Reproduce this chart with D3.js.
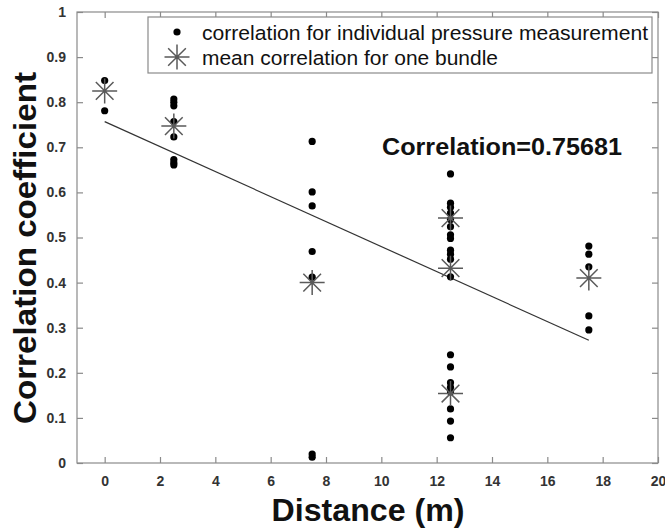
<!DOCTYPE html>
<html lang="en">
<head>
<meta charset="UTF-8">
<title>Correlation vs distance</title>
<script src="https://d3js.org/d3.v7.min.js"></script>
<style>
  body { margin: 0; background: #fff; }
  svg { display: block; font-family: "Liberation Sans", Arial, Helvetica, sans-serif; }
</style>
</head>
<body>
<svg id="main" width="665" height="529"></svg>
<script>
// individual pressure measurement correlations, grouped by distance (m)
const distances = [0, 2.5, 7.5, 12.5, 17.5]
const corrAt0 = [0.848, 0.781]
const corrAt2_5 = [0.807, 0.800, 0.792, 0.757, 0.723, 0.673, 0.666, 0.661]
const corrAt7_5 = [0.713, 0.601, 0.570, 0.469, 0.412, 0.020, 0.013]
const corrAt12_5 = [0.641, 0.576, 0.567, 0.554, 0.540, 0.524, 0.506, 0.498, 0.472, 0.463,
                    0.452, 0.413, 0.240, 0.213, 0.178, 0.168, 0.158, 0.120, 0.093, 0.056]
const corrAt17_5 = [0.481, 0.463, 0.435, 0.326, 0.295]
// mean correlation for one bundle
const meanX = [0, 2.5, 7.5, 12.5, 12.5, 12.5, 17.5]
const meanY = [0.825, 0.747, 0.400, 0.543, 0.432, 0.154, 0.410]
// fitted line end points
const fitX = [0, 17.5]
const fitY = [0.757, 0.272]
const xTicks = [0, 2, 4, 6, 8, 10, 12, 14, 16, 18, 20]
const yTicks = [0, 0.1, 0.2, 0.3, 0.4, 0.5, 0.6, 0.7, 0.8, 0.9, 1]

const groups = [corrAt0, corrAt2_5, corrAt7_5, corrAt12_5, corrAt17_5]
const points = []
groups.forEach((g, i) => g.forEach(v => points.push({x: distances[i], y: v})))
const means = meanX.map((d, i) => ({x: d, y: meanY[i]}))

const svg = d3.select("#main")
const mLeft = 77, mRight = 658, mTop = 12, mBottom = 463

const x = d3.scaleLinear().domain([-1, 20]).range([mLeft, mRight])
const y = d3.scaleLinear().domain([0, 1]).range([mBottom, mTop])

const axisColor = "#8a8a8a"
const tickLen = 6

// frame
svg.append("rect")
    .attr("x", mLeft).attr("y", mTop)
    .attr("width", mRight - mLeft).attr("height", mBottom - mTop)
    .attr("fill", "none").attr("stroke", axisColor).attr("stroke-width", 1.2)

// axes with inward ticks, mirrored on the top and right sides
const fmtY = d => d === 0 ? "0" : d === 1 ? "1" : d3.format(".1f")(d)
function styleAxis(g) {
    g.select(".domain").remove()
    g.selectAll(".tick line").attr("stroke", axisColor).attr("stroke-width", 1.2)
    g.selectAll(".tick text")
        .attr("fill", "#333")
        .attr("font-size", 14)
        .attr("font-weight", "bold")
}
svg.append("g").attr("transform", `translate(0,${mBottom})`)
    .call(d3.axisBottom(x).tickValues(xTicks).tickSizeInner(-tickLen).tickSizeOuter(0).tickPadding(13))
    .call(styleAxis)
svg.append("g").attr("transform", `translate(0,${mTop})`)
    .call(d3.axisTop(x).tickValues(xTicks).tickSizeInner(-tickLen).tickSizeOuter(0).tickFormat(""))
    .call(styleAxis)
svg.append("g").attr("transform", `translate(${mLeft},0)`)
    .call(d3.axisLeft(y).tickValues(yTicks).tickSizeInner(-tickLen).tickSizeOuter(0).tickPadding(11).tickFormat(fmtY))
    .call(styleAxis)
svg.append("g").attr("transform", `translate(${mRight},0)`)
    .call(d3.axisRight(y).tickValues(yTicks).tickSizeInner(-tickLen).tickSizeOuter(0).tickFormat(""))
    .call(styleAxis)

// fitted line
svg.append("line")
    .attr("x1", x(fitX[0])).attr("y1", y(fitY[0]))
    .attr("x2", x(fitX[1])).attr("y2", y(fitY[1]))
    .attr("stroke", "#333").attr("stroke-width", 1.2)

// asterisk marker
const starR = 12.5
function starPath(r) {
    const a = r * Math.SQRT1_2
    return `M${-r},0L${r},0M0,${-r}L0,${r}M${-a},${-a}L${a},${a}M${-a},${a}L${a},${-a}`
}

// individual points
svg.append("g").selectAll("circle")
    .data(points)
    .join("circle")
    .attr("cx", d => x(d.x))
    .attr("cy", d => y(d.y))
    .attr("r", 3.6)
    .attr("fill", "#000")

// means
svg.append("g").selectAll("path")
    .data(means)
    .join("path")
    .attr("transform", d => `translate(${x(d.x)},${y(d.y)})`)
    .attr("d", starPath(starR))
    .attr("stroke", "#5a5a5a").attr("stroke-width", 1.5).attr("fill", "none")

// correlation text
svg.append("text")
    .attr("x", 382).attr("y", 155)
    .attr("font-size", 24.5).attr("font-weight", "bold").attr("fill", "#111")
    .attr("textLength", 240).attr("lengthAdjust", "spacingAndGlyphs")
    .text("Correlation=0.75681")

// legend
const legend = svg.append("g")
legend.append("rect")
    .attr("x", 148).attr("y", 17).attr("width", 504).attr("height", 56)
    .attr("fill", "#fff").attr("stroke", axisColor).attr("stroke-width", 1.2)
const clip = svg.append("clipPath").attr("id", "legclip")
clip.append("rect").attr("x", 148).attr("y", 17).attr("width", 503).attr("height", 56)
legend.append("circle").attr("cx", 177).attr("cy", 32).attr("r", 3.6).attr("fill", "#000")
legend.append("path").attr("transform", "translate(177,57)").attr("d", starPath(starR))
    .attr("stroke", "#5a5a5a").attr("stroke-width", 1.5).attr("fill", "none")
legend.append("text").attr("x", 202).attr("y", 39.5).attr("clip-path", "url(#legclip)")
    .attr("font-size", 20.5).attr("fill", "#111")
    .attr("textLength", 446).attr("lengthAdjust", "spacingAndGlyphs")
    .text("correlation for individual pressure measurement")
legend.append("text").attr("x", 202).attr("y", 64.5)
    .attr("font-size", 20.5).attr("fill", "#111")
    .attr("textLength", 296).attr("lengthAdjust", "spacingAndGlyphs")
    .text("mean correlation for one bundle")

// axis titles
svg.append("text")
    .attr("x", 368).attr("y", 521)
    .attr("text-anchor", "middle")
    .attr("font-size", 31).attr("font-weight", "bold").attr("fill", "#111")
    .attr("textLength", 193).attr("lengthAdjust", "spacingAndGlyphs")
    .text("Distance (m)")
svg.append("text")
    .attr("transform", "translate(36,248) rotate(-90)")
    .attr("text-anchor", "middle")
    .attr("font-size", 32).attr("font-weight", "bold").attr("fill", "#111")
    .attr("textLength", 352).attr("lengthAdjust", "spacingAndGlyphs")
    .text("Correlation coefficient")
</script>
</body>
</html>
